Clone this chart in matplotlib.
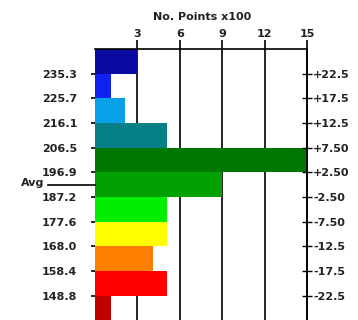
import matplotlib
matplotlib.use("Agg")
import matplotlib.pyplot as plt
from matplotlib.transforms import blended_transform_factory

# Histogram of binned values: counts (x100) per band of deviation from the average
deviation_labels = ["+22.5", "+17.5", "+12.5", "+7.50", "+2.50",
                    "-2.50", "-7.50", "-12.5", "-17.5", "-22.5"]
deviation_edges = [22.5, 17.5, 12.5, 7.5, 2.5, -2.5, -7.5, -12.5, -17.5, -22.5]
value_labels = ["235.3", "225.7", "216.1", "206.5", "196.9",
                "187.2", "177.6", "168.0", "158.4", "148.8"]
bin_centers = [25, 20, 15, 10, 5, 0, -5, -10, -15, -20, -25]
counts = [3.0, 1.1, 2.1, 5.1, 15.0, 9.0, 5.1, 5.1, 4.1, 5.1, 1.1]
bin_colors = ["#0a0aa0", "#1020f0", "#08a0e8", "#088088", "#007800",
              "#00a000", "#00ee00", "#ffff00", "#ff8000", "#ff0000", "#c00000"]
count_ticks = [3, 6, 9, 12, 15]
count_tick_labels = ["3", "6", "9", "12", "15"]

plt.rcParams["font.family"] = ["DejaVu Sans"]
plt.rcParams["font.weight"] = "bold"
plt.rcParams["font.size"] = 8

W, H = 358, 320
fig = plt.figure(figsize=(W / 100, H / 100), dpi=100)
fig.patch.set_facecolor("white")

x0, x1 = 95.0, 307.0
y_top, y_bot = 49.0, 320.5
ax = fig.add_axes([x0 / W, 1 - y_bot / H, (x1 - x0) / W, (y_bot - y_top) / H])
ax.set_xlim(0, 15)
ax.set_ylim(-27.5, 27.5)

ax.barh(bin_centers, counts, height=5, color=bin_colors, left=0,
        linewidth=0, zorder=2)

# vertical grid lines at the count ticks
for xv in count_ticks[:-1]:
    ax.axvline(xv, color="black", lw=1.2, zorder=1)

ax.xaxis.tick_top()
ax.set_xticks(count_ticks)
ax.set_xticklabels(count_tick_labels)
ax.tick_params(axis="x", direction="out", length=6.5, width=1.2, pad=0.5,
               colors="black", labelcolor="#222222")

ax.set_yticks(deviation_edges)
ax.set_yticklabels(value_labels)
ax.tick_params(axis="y", direction="out", length=3.2, width=1.2, pad=9.5,
               labelcolor="#222222")

for side in ["left", "bottom"]:
    ax.spines[side].set_visible(False)
for side in ["top", "right"]:
    ax.spines[side].set_linewidth(1.2)

axr = ax.twinx()
axr.set_ylim(ax.get_ylim())
axr.set_yticks(deviation_edges)
axr.set_yticklabels(deviation_labels)
axr.tick_params(axis="y", direction="inout", length=6.5, width=1.0, pad=1.0,
                labelcolor="#222222")
for side in ["left", "bottom", "top"]:
    axr.spines[side].set_visible(False)
axr.spines["right"].set_linewidth(1.2)

# average marker on the left
tr = blended_transform_factory(ax.transAxes, ax.transData)
ax.plot([(48 - x0) / (x1 - x0), 0.0], [0, 0], color="black", lw=1.2,
        transform=tr, clip_on=False, zorder=3)
ax.annotate("Avg", xy=((44 - x0) / (x1 - x0), 0), xycoords=tr,
            xytext=(0, 1.5), textcoords="offset points",
            ha="right", va="center", color="#222222")

fig.text(202 / W, 1 - 16.5 / H, "No. Points x100", ha="center", va="center",
         color="#222222")

fig.savefig("out.png", dpi=100, facecolor="white")
